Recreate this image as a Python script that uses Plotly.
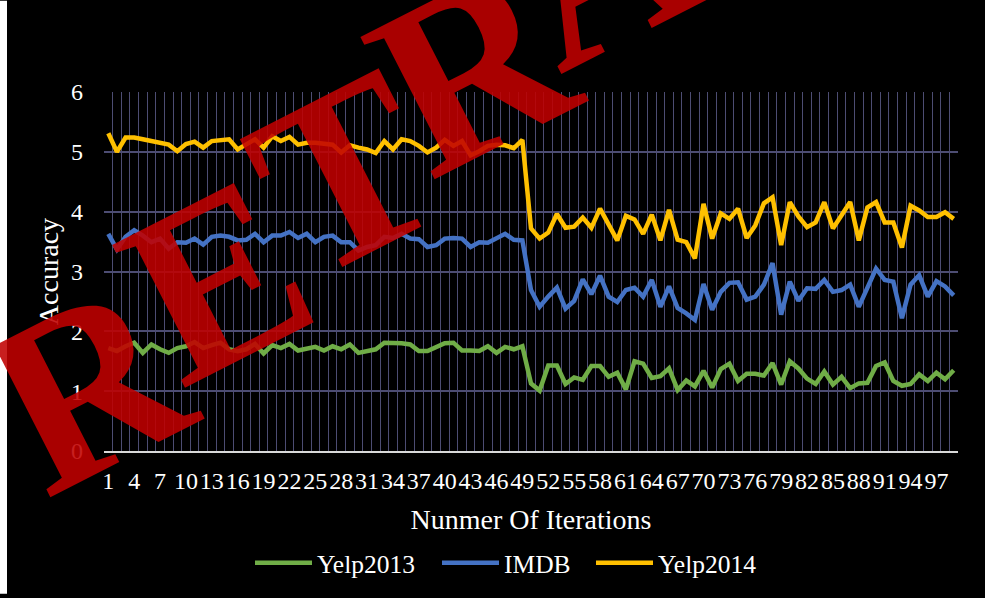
import plotly.graph_objects as go

iterations = list(range(1, 100))

yelp2013 = [1.72, 1.67, 1.75, 1.81, 1.64, 1.78, 1.70, 1.64, 1.72, 1.75,
            1.82, 1.72, 1.77, 1.81, 1.70, 1.67, 1.70, 1.79, 1.63, 1.77,
            1.72, 1.79, 1.68, 1.71, 1.74, 1.68, 1.75, 1.70, 1.78, 1.64,
            1.67, 1.70, 1.81, 1.81, 1.80, 1.78, 1.67, 1.67, 1.74, 1.80,
            1.81, 1.68, 1.68, 1.67, 1.75, 1.64, 1.74, 1.70, 1.75,
            1.13, 1.01, 1.43, 1.43, 1.12, 1.23, 1.19, 1.42, 1.42, 1.24,
            1.31, 1.03, 1.50, 1.46, 1.22, 1.25, 1.38, 1.02, 1.18, 1.08,
            1.34, 1.06, 1.37, 1.46, 1.17, 1.29, 1.29, 1.26, 1.47, 1.11,
            1.50, 1.38, 1.21, 1.12, 1.33, 1.11, 1.24, 1.05, 1.13, 1.14,
            1.42, 1.48, 1.17, 1.09, 1.12, 1.28, 1.17, 1.31, 1.20, 1.35]

imdb = [3.63, 3.37, 3.58, 3.69, 3.60, 3.49, 3.55, 3.38, 3.49, 3.48,
        3.55, 3.45, 3.58, 3.60, 3.58, 3.52, 3.53, 3.63, 3.49, 3.60,
        3.60, 3.66, 3.56, 3.63, 3.49, 3.58, 3.60, 3.49, 3.49, 3.35,
        3.41, 3.44, 3.58, 3.56, 3.63, 3.55, 3.54, 3.41, 3.44, 3.55,
        3.56, 3.55, 3.41, 3.49, 3.48, 3.56, 3.63, 3.53, 3.52,
        2.69, 2.41, 2.58, 2.73, 2.38, 2.51, 2.87, 2.62, 2.93, 2.58,
        2.49, 2.69, 2.73, 2.58, 2.86, 2.41, 2.75, 2.39, 2.30, 2.19,
        2.79, 2.36, 2.66, 2.81, 2.82, 2.53, 2.58, 2.78, 3.14, 2.28,
        2.83, 2.51, 2.72, 2.71, 2.86, 2.66, 2.69, 2.78, 2.41, 2.72,
        3.05, 2.86, 2.83, 2.22, 2.78, 2.94, 2.58, 2.84, 2.75, 2.60]

yelp2014 = [5.31, 5.00, 5.24, 5.24, 5.21, 5.18, 5.15, 5.12, 5.01, 5.13,
            5.17, 5.07, 5.18, 5.19, 5.21, 5.04, 5.12, 5.21, 5.07, 5.26,
            5.18, 5.25, 5.12, 5.15, 5.15, 5.14, 5.12, 4.99, 5.11, 5.07,
            5.04, 4.98, 5.18, 5.04, 5.21, 5.18, 5.10, 4.99, 5.07, 5.20,
            5.10, 5.18, 4.94, 5.01, 5.10, 5.12, 5.11, 5.06, 5.20,
            3.72, 3.55, 3.65, 3.96, 3.73, 3.75, 3.90, 3.73, 4.05, 3.80,
            3.52, 3.93, 3.87, 3.63, 3.95, 3.52, 4.03, 3.53, 3.49, 3.22,
            4.13, 3.55, 3.97, 3.88, 4.05, 3.56, 3.77, 4.14, 4.24, 3.44,
            4.16, 3.92, 3.74, 3.82, 4.16, 3.72, 3.95, 4.16, 3.52, 4.07,
            4.16, 3.82, 3.82, 3.40, 4.10, 4.02, 3.91, 3.91, 3.99, 3.88]

tick_labels = [str(v) for v in range(1, 100, 3)]

series = [("Yelp2013", yelp2013, "#70AD47", "legend"),
          ("IMDB", imdb, "#4472C4", "legend2"),
          ("Yelp2014", yelp2014, "#FFC000", "legend3")]

watermark_letters = ["R", "E", "T", "R", "A", "C"]

FONT = "Liberation Serif, Times New Roman, serif"
GRID = "#4d4d73"
W, H = 985, 598
L, R, T, B = 104, 27, 92, 144
PW = W - L - R
PH = H - T - B


def px_x(p):
    return (p - L) / PW


def px_y(p):
    return 1 - (p - T) / PH


fig = go.Figure()
for name, vals, col, lg in series:
    fig.add_trace(go.Scatter(x=iterations, y=vals, mode="lines", name=name,
                             legend=lg, line=dict(color=col, width=4.5)))

legend_common = dict(orientation="h", xanchor="left", y=px_y(567),
                     yanchor="middle", itemwidth=57,
                     font=dict(size=25.5, family=FONT, color="white"),
                     bgcolor="rgba(0,0,0,0)", borderwidth=0)

fig.update_layout(
    width=W, height=H,
    margin=dict(l=L, r=R, t=T, b=B),
    paper_bgcolor="black", plot_bgcolor="black",
    font=dict(family=FONT, color="white", size=24),
    showlegend=True,
    legend=dict(x=px_x(250), **legend_common),
    legend2=dict(x=px_x(437), **legend_common),
    legend3=dict(x=px_x(591), **legend_common),
    xaxis=dict(range=[0.5, 99.5], tickmode="array",
               tickvals=list(range(1, 100, 3)), ticktext=tick_labels,
               tickangle=0,
               showgrid=False, zeroline=False, showline=True,
               linecolor="#d9d9d9", linewidth=2, ticks="",
               tickfont=dict(size=24, family=FONT, color="white"),
               ticklabelstandoff=7,
               minor=dict(tickmode="linear", tick0=0.5, dtick=1, showgrid=True,
                          gridcolor=GRID, gridwidth=1.3, ticks=""),
               title=dict(text="Nunmer Of Iterations", standoff=17,
                          font=dict(size=28, family=FONT, color="white"))),
    yaxis=dict(range=[0, 6], dtick=1, showgrid=True, gridcolor=GRID,
               gridwidth=2, zeroline=False, showline=False, ticks="",
               tickfont=dict(size=24, family=FONT, color="white"),
               ticklabelstandoff=20,
               title=dict(text="Accuracy", standoff=4,
                          font=dict(size=28, family=FONT, color="white"))),
)

# thin white strip at the left edge of the original image
fig.add_shape(type="rect", xref="paper", yref="paper",
              x0=px_x(0), x1=px_x(7), y0=px_y(H), y1=px_y(0),
              fillcolor="white", line=dict(width=0), layer="above")

# "RETRACTED" watermark, letter by letter along a diagonal
start = (88, 388)
step = (128, -107)
for k, ch in enumerate(watermark_letters):
    cx = start[0] + k * step[0]
    cy = start[1] + k * step[1]
    fig.add_annotation(text="<b>%s</b>" % ch, xref="paper", yref="paper",
                       x=px_x(cx), y=px_y(cy), xanchor="center", yanchor="middle",
                       showarrow=False, textangle=-27,
                       font=dict(family=FONT, size=245,
                                 color="rgba(192,0,0,0.88)"))

fig.write_html("out.html", config={"displayModeBar": False},
               post_script="document.body.style.margin='0';")
